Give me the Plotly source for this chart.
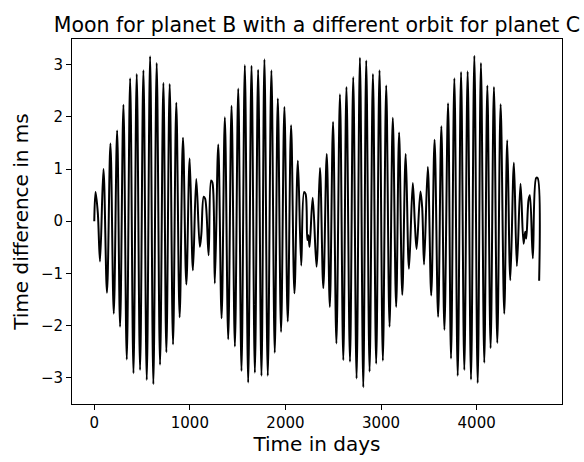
import plotly.graph_objects as go

# Extrema / turning points (time in days, time difference in ms)
days = [
    0, 13, 37, 60, 96, 133, 169, 204, 239, 270, 305, 340, 375, 410, 444, 479, 514, 549,
    584, 618, 653, 688, 723, 754, 789, 824, 858, 893, 928, 963, 998, 1032, 1067, 1104,
    1120, 1145, 1160, 1196, 1222, 1236, 1261, 1297, 1332, 1366, 1401, 1436, 1471, 1506,
    1540, 1575, 1610, 1645, 1680, 1714, 1749, 1780, 1815, 1853, 1888, 1920, 1954, 1989,
    2024, 2059, 2094, 2130, 2165, 2195, 2211, 2229, 2240, 2252, 2285, 2325, 2361, 2396,
    2432, 2464, 2498, 2533, 2570, 2605, 2638, 2675, 2709, 2744, 2779, 2814, 2845, 2880,
    2915, 2949, 2984, 3019, 3054, 3089, 3123, 3158, 3189, 3222, 3258, 3292, 3332, 3354,
    3372, 3412, 3430, 3450, 3489, 3525, 3560, 3597, 3631, 3663, 3701, 3732, 3767, 3802,
    3837, 3871, 3906, 3941, 3976, 4011, 4045, 4080, 4112, 4146, 4181, 4216, 4251, 4289,
    4320, 4352, 4390, 4421, 4459, 4491, 4508, 4519, 4543, 4557, 4588, 4623, 4637, 4654,
]
time_diff_ms = [
    0.0, 0.56, 0.16, -0.77, 1.00, -1.37, 1.49, -1.77, 1.74, -2.02, 2.23, -2.65, 2.74, -2.91,
    2.82, -2.85, 2.89, -3.04, 3.16, -3.12, 3.03, -2.75, 2.65, -2.51, 2.63, -2.36, 2.27, -1.84,
    1.60, -1.21, 1.20, -0.94, 0.81, -0.49, -0.25, 0.47, 0.43, -0.65, 0.78, 0.74, -1.19, 1.47,
    -1.86, 1.99, -2.26, 2.21, -2.40, 2.54, -2.87, 2.99, -3.09, 2.98, -2.90, 2.90, -2.96, 3.10,
    -2.96, 2.89, -2.52, 2.35, -2.12, 2.19, -1.92, 1.84, -1.38, 1.16, -0.85, 0.56, 0.52, -0.36,
    -0.27, -0.49, 0.45, -0.87, 1.02, -1.28, 1.29, -1.64, 1.90, -2.34, 2.43, -2.66, 2.57, -2.69,
    2.76, -3.01, 3.13, -3.18, 3.08, -2.88, 2.82, -2.73, 2.89, -2.67, 2.60, -2.02, 1.98, -1.64,
    1.70, -1.41, 1.29, -0.91, 0.73, -0.05, -0.53, 0.57, 0.27, -0.83, 1.04, -1.42, 1.56, -1.83,
    1.82, -2.08, 2.26, -2.63, 2.74, -2.96, 2.86, -2.85, 2.87, -3.03, 3.17, -3.10, 3.03, -2.71,
    2.60, -2.43, 2.57, -2.33, 2.24, -1.77, 1.55, -1.13, 1.12, -0.86, 0.72, -0.43, -0.20, -0.33,
    0.41, 0.50, -0.71, 0.83, 0.83, -1.14,
]

x_ticks = [0, 1000, 2000, 3000, 4000]
y_ticks = [-3, -2, -1, 0, 1, 2, 3]

title_text = "Moon for planet B with a different orbit for planet C"
x_label = "Time in days"
y_label = "Time difference in ms"

FONT = "DejaVu Sans"

fig = go.Figure()
fig.add_trace(go.Scatter(
    x=days, y=time_diff_ms, mode="lines",
    line=dict(color="black", width=2, shape="spline", smoothing=1),
    showlegend=False, hoverinfo="skip",
))

axis_common = dict(
    showgrid=False, zeroline=False, showline=True, linecolor="black", linewidth=1,
    mirror=True, ticks="outside", ticklen=5, tickwidth=1, tickcolor="black",
    tickfont=dict(family=FONT, size=15, color="black"),
)

fig.update_layout(
    width=584, height=462, autosize=False,
    margin=dict(l=72, r=22, t=39, b=58),
    paper_bgcolor="white", plot_bgcolor="white",
    font=dict(family=FONT, color="black"),
    title=dict(text=title_text, font=dict(family=FONT, size=20.5, color="black"),
               x=0.5, xref="paper", xanchor="center",
               y=1, yref="paper", yanchor="bottom", pad=dict(b=7)),
    xaxis=dict(range=[-233, 4893], tickvals=x_ticks,
               title=dict(text=x_label, font=dict(family=FONT, size=20, color="black"), standoff=4),
               **axis_common),
    yaxis=dict(range=[-3.50, 3.49], tickvals=y_ticks,
               title=dict(text=y_label, font=dict(family=FONT, size=20, color="black"), standoff=6),
               **axis_common),
)

fig.write_html("out.html")
